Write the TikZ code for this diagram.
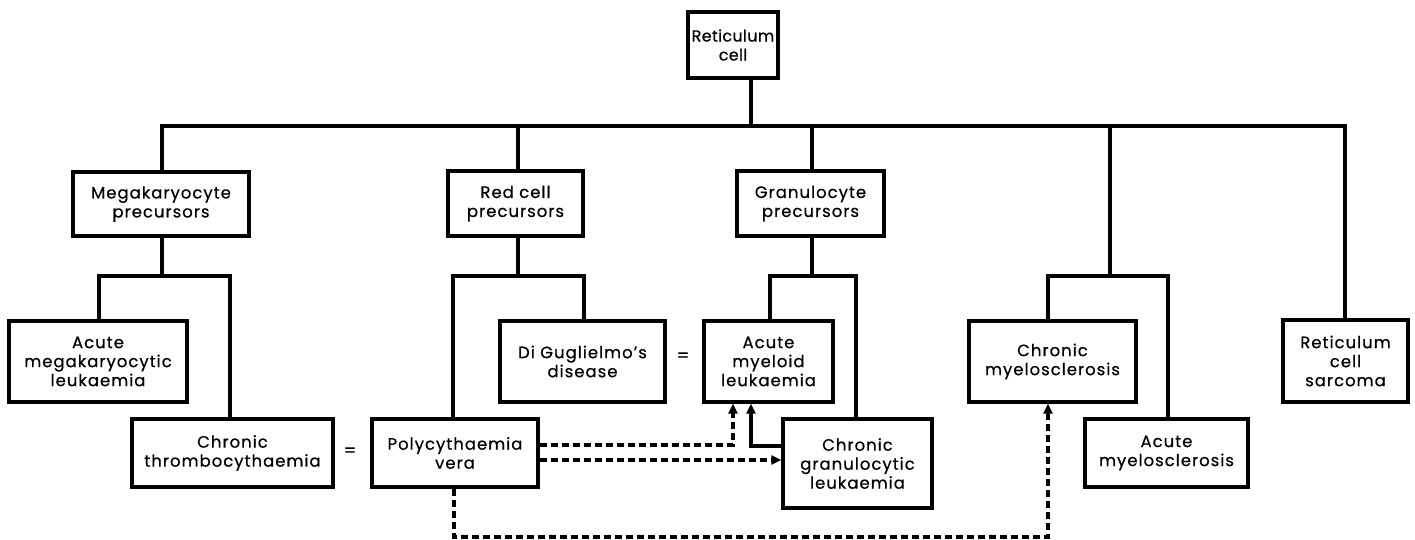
\documentclass[tikz,border=0pt]{standalone}
\usepackage{fontspec}
\setmainfont[LetterSpace=6,FakeBold=0.5]{Poppins}
\usetikzlibrary{arrows.meta}
\begin{document}
\begin{tikzpicture}[x=1pt,y=-1pt,
  box/.style={draw,line width=3.2pt,inner sep=0pt,align=center,font=\fontsize{16.5}{19}\selectfont},
  link/.style={line width=3.2pt},
  dlink/.style={line width=3.2pt,dash pattern=on 7pt off 4pt},
  tip/.style={-{Triangle[length=10pt,width=9pt]}},
  eq/.style={font=\fontsize{18}{18}\selectfont,inner sep=0pt}]
\useasboundingbox (0,0) rectangle (1415,540);
% boxes
\node[box,minimum width=90pt,minimum height=66pt,font=\fontsize{16}{19}\selectfont\addfontfeatures{LetterSpace=2}] (rc) at (733,45) {Reticulum\\cell};
\node[box,minimum width=176pt,minimum height=64pt] (mega) at (161,204) {Megakaryocyte\\precursors};
\node[box,minimum width=135pt,minimum height=65pt] (red) at (515.5,203.5) {Red cell\\precursors};
\node[box,minimum width=147pt,minimum height=65pt] (gran) at (810.5,203.5) {Granulocyte\\precursors};
\node[box,minimum width=178pt,minimum height=81pt] (amk) at (98,361.5) {Acute\\megakaryocytic\\leukaemia};
\node[box,minimum width=201pt,minimum height=68pt] (ct) at (232.5,453) {Chronic\\thrombocythaemia};
\node[box,minimum width=165pt,minimum height=81pt] (dg) at (582.5,361.5) {Di Guglielmo's\\disease};
\node[box,minimum width=166pt,minimum height=68pt] (pv) at (455,453) {Polycythaemia\\vera};
\node[box,minimum width=129pt,minimum height=81pt] (aml) at (768.5,361.5) {Acute\\myeloid\\leukaemia};
\node[box,minimum width=149pt,minimum height=89pt] (cgl) at (857.5,463.5) {Chronic\\granulocytic\\leukaemia};
\node[box,minimum width=167pt,minimum height=81pt] (cm) at (1052.5,361.5) {Chronic\\myelosclerosis};
\node[box,minimum width=163pt,minimum height=68pt] (am) at (1166.5,453) {Acute\\myelosclerosis};
\node[box,minimum width=125pt,minimum height=82pt] (rcs) at (1345.5,361) {Reticulum\\cell\\sarcoma};
% equals signs
\node[eq] (eq1) at (350,452) {=};
\node[eq] (eq2) at (683,357) {=};
% tree coordinates
\coordinate (top) at (751,126);
\coordinate (bL) at (162,126);
\coordinate (bR) at (1345,126);
\coordinate (bRed) at (518,126);
\coordinate (bGran) at (812,126);
\coordinate (bMs) at (1110,126);
\coordinate (jMega) at (162,276);
\coordinate (jRed) at (518,276);
\coordinate (jGran) at (812,276);
\coordinate (jMs) at (1110,276);
\coordinate (xAmk) at (99,276);
\coordinate (xCt) at (230,276);
\coordinate (xPv) at (453,276);
\coordinate (xDg) at (584,276);
\coordinate (xAml) at (770,276);
\coordinate (xCgl) at (856,276);
\coordinate (xCm) at (1048,276);
\coordinate (xAm) at (1168,276);
% tree
\draw[link] (rc.south -| top) -- (top);
\draw[link,line cap=rect] (bL) -- (bR);
\draw[link] (bL) -- (mega.north -| bL);
\draw[link] (bRed) -- (red.north -| bRed);
\draw[link] (bGran) -- (gran.north -| bGran);
\draw[link] (bMs) -- (jMs);
\draw[link] (bR) -- (rcs.north -| bR);
\draw[link] (mega.south -| jMega) -- (jMega);
\draw[link] (red.south -| jRed) -- (jRed);
\draw[link] (gran.south -| jGran) -- (jGran);
\draw[link] (amk.north -| xAmk) -- (xAmk) -- (xCt) -- (ct.north -| xCt);
\draw[link] (pv.north -| xPv) -- (xPv) -- (xDg) -- (dg.north -| xDg);
\draw[link] (aml.north -| xAml) -- (xAml) -- (xCgl) -- (cgl.north -| xCgl);
\draw[link] (cm.north -| xCm) -- (xCm) -- (xAm) -- (am.north -| xAm);
% arrows
\coordinate (d1) at (733,445);
\coordinate (s1) at (751,446);
\coordinate (d2) at (700,460);
\coordinate (d3) at (454,537);
\coordinate (d4) at (1048,537);
\draw[dlink,tip] (pv.east |- d1) -- (d1) -- (aml.south -| d1);
\draw[link,tip] (cgl.west |- s1) -- (s1) -- (aml.south -| s1);
\draw[dlink,tip] (pv.east |- d2) -- (cgl.west |- d2);
\draw[dlink,tip] (pv.south -| d3) -- (d3) -- (d4) -- (cm.south -| d4);
\end{tikzpicture}
\end{document}
